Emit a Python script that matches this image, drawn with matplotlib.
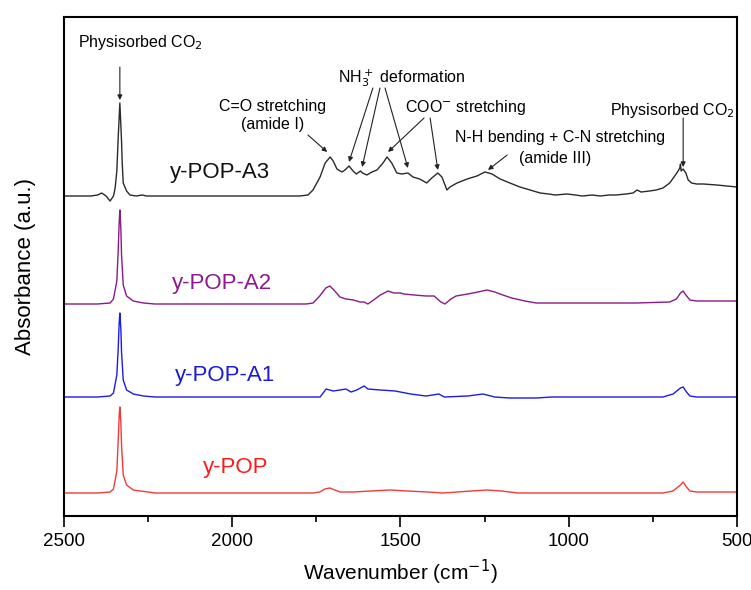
import numpy as np
import matplotlib
matplotlib.use('Agg')
import matplotlib.pyplot as plt
from matplotlib.ticker import MultipleLocator, NullLocator

plt.rcParams['font.family'] = ['Liberation Sans', 'DejaVu Sans']

# FTIR spectra (wavenumber in cm-1, absorbance above each baseline, a.u.)
wn_a3 = [2500, 2420, 2400, 2388, 2375, 2363, 2353, 2348, 2343, 2339, 2334, 2329, 2327, 2324,
         2314, 2304, 2285, 2268, 2255, 2000, 1800, 1775, 1760, 1739, 1724, 1709, 1700, 1689,
         1674, 1665, 1653, 1641, 1631, 1619, 1613, 1600, 1585, 1570, 1552, 1540, 1526, 1511,
         1496, 1478, 1463, 1443, 1422, 1407, 1389, 1377, 1362, 1353, 1332, 1302, 1273, 1249,
         1228, 1204, 1175, 1145, 1115, 1085, 1060, 1040, 1005, 980, 960, 930, 907, 880, 860,
         830, 809, 797, 785, 760, 740, 720, 700, 685, 675, 670, 668, 666, 660, 652, 645, 635,
         620, 600, 560, 530, 500]
ab_a3 = [0.0, 0.0, 0.01, 0.03, 0.0, -0.05, 0.0, 0.08, 0.25, 0.58, 0.93, 0.55, 0.33, 0.13,
         0.05, 0.01, 0.0, 0.01, 0.0, 0.0, 0.0, 0.01, 0.06, 0.19, 0.33, 0.39, 0.35, 0.27,
         0.24, 0.26, 0.30, 0.25, 0.22, 0.25, 0.23, 0.21, 0.24, 0.26, 0.33, 0.39, 0.33, 0.23,
         0.22, 0.23, 0.19, 0.17, 0.13, 0.18, 0.23, 0.19, 0.06, 0.09, 0.13, 0.17, 0.20, 0.24,
         0.22, 0.17, 0.13, 0.09, 0.06, 0.03, 0.02, 0.01, 0.02, 0.01, 0.0, 0.01, 0.0, 0.01, 0.01,
         0.02, 0.03, 0.06, 0.04, 0.05, 0.06, 0.08, 0.13, 0.20, 0.25, 0.28, 0.32, 0.25, 0.27,
         0.23, 0.16, 0.13, 0.12, 0.12, 0.11, 0.10, 0.09]

wn_a2 = [2500, 2400, 2363, 2353, 2343, 2339, 2336, 2334, 2331, 2329, 2324, 2314, 2294, 2264,
         2230, 1780, 1760, 1740, 1722, 1710, 1698, 1680, 1662, 1640, 1620, 1608, 1597, 1580,
         1560, 1537, 1520, 1500, 1490, 1460, 1424, 1400, 1380, 1368, 1350, 1335, 1300, 1270,
         1243, 1220, 1204, 1170, 1130, 1097, 1000, 900, 800, 700, 680, 668, 660, 652, 640,
         620, 500]
ab_a2 = [0.0, 0.0, 0.01, 0.05, 0.23, 0.53, 0.82, 0.94, 0.75, 0.49, 0.19, 0.08, 0.03, 0.01,
         0.0, 0.0, 0.01, 0.08, 0.16, 0.18, 0.14, 0.07, 0.05, 0.04, 0.02, 0.02, 0.0, 0.04,
         0.09, 0.13, 0.11, 0.11, 0.10, 0.09, 0.08, 0.08, 0.02, 0.0, 0.05, 0.08, 0.10, 0.12,
         0.14, 0.12, 0.10, 0.06, 0.03, 0.01, 0.01, 0.01, 0.01, 0.02, 0.05, 0.11, 0.13, 0.09,
         0.04, 0.03, 0.03]

wn_a1 = [2500, 2400, 2363, 2353, 2343, 2339, 2336, 2334, 2331, 2329, 2324, 2314, 2294, 2264,
         2230, 1750, 1739, 1721, 1700, 1680, 1662, 1647, 1630, 1608, 1597, 1560, 1516, 1470,
         1424, 1386, 1370, 1300, 1255, 1220, 1177, 1097, 1050, 1000, 900, 720, 690, 668,
         660, 650, 640, 620, 500]
ab_a1 = [0.0, 0.0, 0.01, 0.04, 0.22, 0.48, 0.74, 0.84, 0.68, 0.45, 0.17, 0.07, 0.03, 0.01,
         0.0, 0.0, 0.0, 0.08, 0.06, 0.07, 0.08, 0.05, 0.07, 0.11, 0.08, 0.07, 0.06, 0.03,
         0.01, 0.03, 0.0, 0.01, 0.03, 0.0, -0.01, -0.01, 0.0, 0.0, 0.0, 0.0, 0.03, 0.09,
         0.10, 0.05, 0.01, 0.0, 0.0]

wn_pop = [2500, 2400, 2363, 2353, 2343, 2339, 2336, 2334, 2331, 2329, 2324, 2314, 2294, 2274,
          2250, 2230, 1760, 1740, 1725, 1710, 1695, 1680, 1640, 1590, 1531, 1480, 1420, 1374,
          1330, 1290, 1243, 1200, 1151, 1000, 850, 720, 690, 668, 660, 650, 640, 620, 500]
ab_pop = [0.0, 0.0, 0.01, 0.04, 0.22, 0.52, 0.78, 0.86, 0.70, 0.48, 0.18, 0.08, 0.03, 0.02,
          0.01, 0.0, 0.0, 0.01, 0.04, 0.05, 0.03, 0.01, 0.01, 0.02, 0.03, 0.02, 0.01, 0.0,
          0.01, 0.02, 0.03, 0.02, 0.0, 0.0, 0.0, 0.0, 0.02, 0.08, 0.11, 0.06, 0.02, 0.01, 0.01]

names = ['y-POP', 'y-POP-A1', 'y-POP-A2', 'y-POP-A3']
offsets = [0.23, 1.19, 2.12, 3.20]
line_colors = ['#f23a3a', '#1c1ce6', '#8a1a86', '#2a2a2a']
text_colors = ['#ff1a1a', '#1a1ad9', '#8b1a8b', '#111111']
label_pos = [(1990, 0.49), (2022, 1.41), (2030, 2.33), (2036, 3.44)]

spectra = [(wn_pop, ab_pop), (wn_a1, ab_a1), (wn_a2, ab_a2), (wn_a3, ab_a3)]

fig = plt.figure(figsize=(7.51, 5.90), dpi=100)
ax = fig.add_axes([64 / 751, 1 - 516 / 590, 673 / 751, 499 / 590])

for (wn, ab), off, c, tc, name, (lx, ly) in zip(spectra, offsets, line_colors, text_colors,
                                                names, label_pos):
    ax.plot(wn, np.array(ab) + off, color=c, lw=1.0)
    ax.text(lx, ly, name, color=tc, fontsize=16, ha='center', va='center')

ax.set_xlim(2500, 500)
ax.set_ylim(0, 4.99)
ax.xaxis.set_major_locator(MultipleLocator(500))
ax.xaxis.set_minor_locator(MultipleLocator(250))
ax.yaxis.set_major_locator(NullLocator())
ax.tick_params(axis='x', which='major', direction='out', length=8, width=1.2,
               labelsize=13.5, pad=4, top=False)
ax.tick_params(axis='x', which='minor', direction='out', length=4.5, width=1.2, top=False)
for s in ax.spines.values():
    s.set_linewidth(1.5)

ax.set_xlabel('Wavenumber (cm$^{-1}$)', fontsize=15, labelpad=6)
ax.set_ylabel('Absorbance (a.u.)', fontsize=16, labelpad=20)

arw = dict(arrowstyle='-|>', color='#222222', lw=0.8, mutation_scale=7, shrinkA=0, shrinkB=0)
fs = 11.5

ax.text(2274, 4.73, 'Physisorbed CO$_2$', fontsize=fs, ha='center', va='center')
ax.annotate('', xy=(2334, 4.16), xytext=(2334, 4.49), arrowprops=arw)

ax.text(1879, 4.01, 'C=O stretching\n(amide I)', fontsize=fs, ha='center', va='center',
        linespacing=1.25)
ax.annotate('', xy=(1718, 3.64), xytext=(1775, 3.81), arrowprops=arw)

ax.text(1496, 4.38, 'NH$_3^+$ deformation', fontsize=fs, ha='center', va='center')
for (x0, x1, y1) in [(1582, 1653, 3.54), (1561, 1614, 3.49), (1546, 1478, 3.48)]:
    ax.annotate('', xy=(x1, y1), xytext=(x0, 4.28), arrowprops=arw)

ax.text(1308, 4.09, 'COO$^{-}$ stretching', fontsize=fs, ha='center', va='center')
ax.annotate('', xy=(1537, 3.64), xytext=(1430, 3.98), arrowprops=arw)
ax.annotate('', xy=(1389, 3.46), xytext=(1412, 3.98), arrowprops=arw)

ax.text(1026, 3.79, 'N-H bending + C-N stretching', fontsize=fs, ha='center', va='center')
ax.text(1041, 3.58, '(amide III)', fontsize=fs, ha='center', va='center')
ax.annotate('', xy=(1240, 3.46), xytext=(1183, 3.61), arrowprops=arw)

ax.text(693, 4.06, 'Physisorbed CO$_2$', fontsize=fs, ha='center', va='center')
ax.annotate('', xy=(660, 3.49), xytext=(660, 3.98), arrowprops=arw)

fig.savefig('out.png', dpi=100)
